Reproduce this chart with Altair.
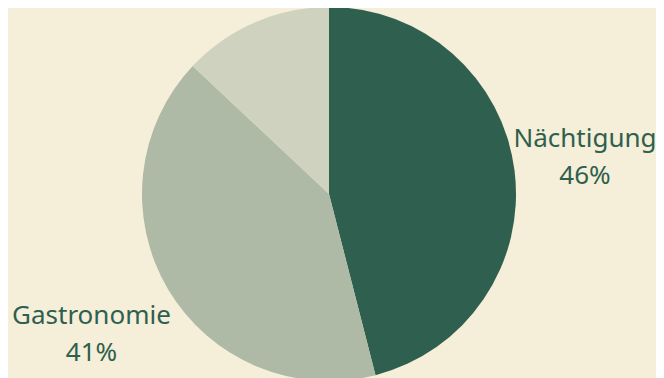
import altair as alt
import pandas as pd

categories = ["Nächtigung", "Gastronomie", "Sonstiges"]
values = [46, 41, 13]
labels = [["Nächtigung", "46%"], ["Gastronomie", "41%"], ["", ""]]
colors = ["#2f5f4e", "#aeb9a6", "#ced2bf"]

df = pd.DataFrame({"cat": categories, "val": values, "order": [0, 1, 2],
                   "label": labels})

base = alt.Chart(df).encode(
    theta=alt.Theta("val:Q", stack=True),
    order=alt.Order("order:Q"),
)

pie = base.mark_arc(outerRadius=187, stroke=None).encode(
    color=alt.Color("cat:N", scale=alt.Scale(domain=categories, range=colors), legend=None),
    x=alt.value(321), y=alt.value(186),
)

def label_layer(cat, radius, dy):
    return base.mark_text(radius=radius, font="Noto Sans", fontSize=26, color="#2f5f4e",
                          align="center", baseline="middle", lineHeight=37, dy=dy).encode(
        text="label",
        x=alt.value(321), y=alt.value(186),
        opacity=alt.condition(alt.datum.cat == cat, alt.value(1), alt.value(0)),
    )

text1 = label_layer("Nächtigung", 258, -22.5)
text2 = label_layer("Gastronomie", 276, -18.5)

chart = (pie + text1 + text2).properties(
    width=648, height=380, background="#f5eed8", padding=0,
    autosize=alt.AutoSizeParams(type="none"),
).configure_view(stroke=None)

chart.save("out.html", embed_options={"renderer": "svg", "actions": False})
